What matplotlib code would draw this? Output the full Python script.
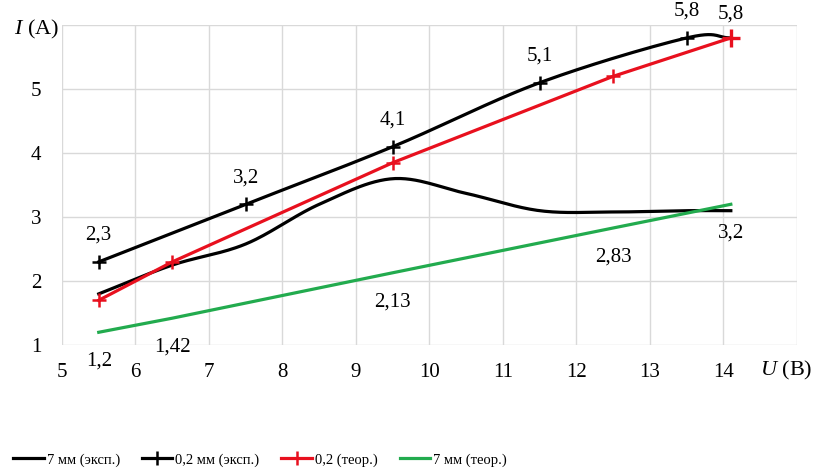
import numpy as np
import matplotlib
matplotlib.use("Agg")
from matplotlib import pyplot as plt
from matplotlib import transforms

plt.rcParams['font.family'] = ['Liberation Serif', 'DejaVu Serif']
plt.rcParams['mathtext.fontset'] = 'custom'
plt.rcParams['mathtext.it'] = 'Liberation Serif:italic'
plt.rcParams['mathtext.rm'] = 'Liberation Serif'

# Voltage / current data
x_7mm_exp = [5.5, 6.5, 7.5, 8.5, 9.5, 10.5, 11.5, 12.5, 13.5, 14.1]
y_7mm_exp = [1.8, 2.25, 2.58, 3.2, 3.6, 3.37, 3.1, 3.08, 3.1, 3.1]

x_02_exp = [5.5, 7.5, 9.5, 11.5, 13.5, 14.1]
y_02_exp = [2.3, 3.2, 4.1, 5.1, 5.8, 5.8]
lbl_02_exp = ["2,3", "3,2", "4,1", "5,1", "5,8"]

x_02_teor = [5.5, 6.5, 9.5, 12.5, 14.1]
y_02_teor = [1.7, 2.3, 3.85, 5.2, 5.8]

x_7mm_teor = [5.5, 6.5, 9.5, 12.5, 14.1]
y_7mm_teor = [1.2, 1.42, 2.13, 2.83, 3.2]
lbl_7mm_teor = ["1,2", "1,42", "2,13", "2,83", "3,2"]

x_ticks = [5, 6, 7, 8, 9, 10, 11, 12, 13, 14]
y_ticks = [1, 2, 3, 4, 5]

GREEN = '#22ab4e'
RED = '#e8101e'


def smooth(x, y, n=30):
    # Catmull-Rom style smoothing of a polyline (like a smoothed line chart)
    x = np.asarray(x, float)
    y = np.asarray(y, float)
    px = np.concatenate([[2 * x[0] - x[1]], x, [2 * x[-1] - x[-2]]])
    py = np.concatenate([[2 * y[0] - y[1]], y, [2 * y[-1] - y[-2]]])
    xs, ys = [], []
    t = np.linspace(0, 1, n)
    for i in range(1, len(px) - 2):
        p0, p1, p2, p3 = [np.array([px[j], py[j]]) for j in range(i - 1, i + 3)]
        m1 = (p2 - p0) / 6
        m2 = (p3 - p1) / 6
        b0, b1, b2, b3 = p1, p1 + m1, p2 - m2, p2
        pts = ((1 - t) ** 3)[:, None] * b0 + (3 * (1 - t) ** 2 * t)[:, None] * b1 \
            + (3 * (1 - t) * t ** 2)[:, None] * b2 + (t ** 3)[:, None] * b3
        xs.extend(pts[:, 0])
        ys.extend(pts[:, 1])
    return xs, ys


fig = plt.figure(figsize=(8.19, 4.74), dpi=100)
ax = fig.add_axes([0.0757, 0.272, 0.8974, 0.675])

lw = 2.3
sx, sy = smooth(x_7mm_exp, y_7mm_exp)
ax.plot(sx, sy, color='black', lw=lw, label='7 мм (эксп.)')

sx, sy = smooth(x_02_exp, y_02_exp)
ax.plot(sx, sy, color='black', lw=lw)
ax.plot(x_02_exp[:-1], y_02_exp[:-1], ls='none', marker='+', ms=10, mew=1.8, color='black')
ax.plot([], [], color='black', lw=lw, marker='+', ms=10, mew=1.8, label='0,2 мм (эксп.)')

ax.plot(x_02_teor, y_02_teor, color=RED, lw=lw, marker='+', ms=10, mew=1.8, label='0,2 (теор.)')
ax.plot(x_02_teor[-1:], y_02_teor[-1:], ls='none', marker='+', ms=13, mew=2.4, color=RED)
ax.plot(x_7mm_teor, y_7mm_teor, color=GREEN, lw=lw, label='7 мм (теор.)')

fs = 15
for xv, yv, s in zip(x_02_exp, y_02_exp, lbl_02_exp):
    ax.annotate(s, (xv, yv), xytext=(0, 19), textcoords='offset points',
                ha='center', va='center', fontsize=fs)
ax.annotate("5,8", (x_02_teor[-1], y_02_teor[-1]), xytext=(0, 17), textcoords='offset points',
            ha='center', va='center', fontsize=fs)
for xv, yv, s in zip(x_7mm_teor, y_7mm_teor, lbl_7mm_teor):
    ax.annotate(s, (xv, yv), xytext=(0, -21), textcoords='offset points',
                ha='center', va='center', fontsize=fs)

ax.set_xlim(5, 15)
ax.set_ylim(1, 6)
ax.set_xticks(list(range(5, 16)))
ax.set_yticks(list(range(1, 7)))
ax.set_xticklabels([str(v) for v in x_ticks] + [''], fontsize=fs)
ax.set_yticklabels([str(v) for v in y_ticks] + [''], fontsize=fs)
ax.tick_params(length=0)
ax.tick_params(axis='x', pad=13)
ax.tick_params(axis='y', pad=15)
ax.grid(True, color='#d9d9d9', lw=1)
ax.set_axisbelow(True)
for sp in ax.spines.values():
    sp.set_visible(False)

# axis captions placed in the tick rows
trans = transforms.blended_transform_factory(ax.transData, ax.transAxes)
ax.text(14.86, -0.08, r'$U$ (B)', transform=trans, ha='center', va='center', fontsize=16,
        clip_on=False)
ax.text(-0.034, 0.985, r'$I$ (A)', transform=ax.transAxes, ha='center', va='center', fontsize=16,
        clip_on=False)

fig.legend(loc='lower left', bbox_to_anchor=(0.0, -0.012), ncol=4, frameon=False, fontsize=10.5,
           handlelength=2.1, columnspacing=1.5, handletextpad=0.2)

fig.savefig('out.png', dpi=100, facecolor='white')
